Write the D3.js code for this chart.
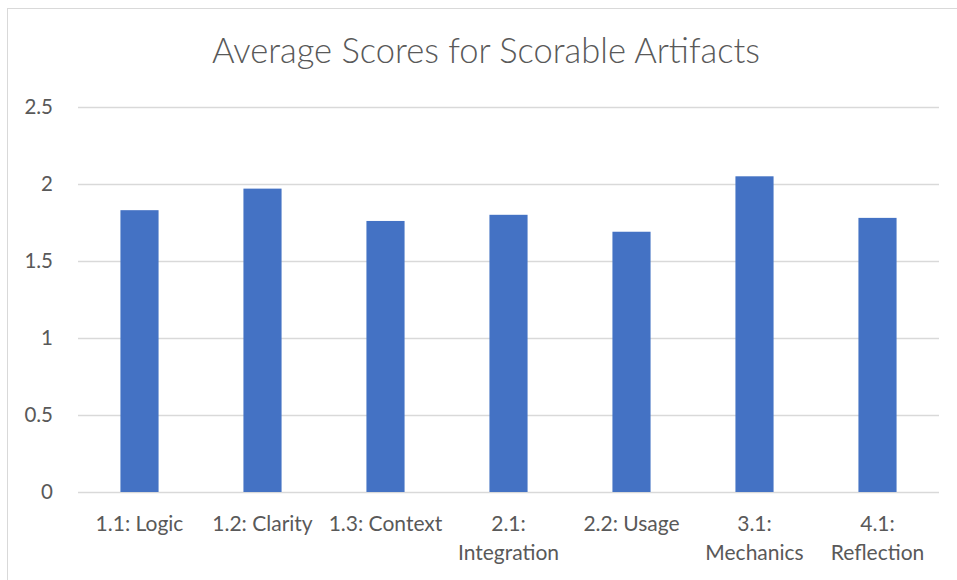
<!DOCTYPE html>
<html>
<head>
<meta charset="utf-8">
<script src="https://cdnjs.cloudflare.com/ajax/libs/d3/7.8.5/d3.min.js"></script>
<style>
  body { margin: 0; background: #fff; }
</style>
</head>
<body>
<div id="chart"></div>
<script>
// data
var categories = [["1.1: Logic"], ["1.2: Clarity"], ["1.3: Context"], ["2.1:", "Integration"],
                  ["2.2: Usage"], ["3.1:", "Mechanics"], ["4.1:", "Reflection"]];
var scores = [1.83, 1.97, 1.76, 1.80, 1.69, 2.05, 1.78];
var yTicks = [0, 0.5, 1, 1.5, 2, 2.5];
var titleText = "Average Scores for Scorable Artifacts";

var W = 957, H = 580,
    plot = { left: 78, right: 939, top: 107, bottom: 492 },
    fontFam = "Lato, 'Open Sans', sans-serif",
    textColor = "#595959";

var svg = d3.select("#chart").append("svg")
    .attr("width", W)
    .attr("height", H);

// chart frame
svg.append("rect")
    .attr("x", 7.5).attr("y", 8.5)
    .attr("width", W + 10).attr("height", H + 10)
    .attr("fill", "#fff")
    .attr("stroke", "#d9d9d9");

var x = d3.scaleBand()
    .domain(d3.range(categories.length))
    .range([plot.left, plot.right])
    .paddingInner(0.69)
    .paddingOuter(0.345);

var y = d3.scaleLinear()
    .domain([0, 2.5])
    .range([plot.bottom, plot.top]);

// gridlines
svg.append("g")
    .selectAll("line")
    .data(yTicks)
    .enter()
    .append("line")
    .attr("x1", plot.left).attr("x2", plot.right)
    .attr("y1", function (d) { return Math.round(y(d)) + 0.5; })
    .attr("y2", function (d) { return Math.round(y(d)) + 0.5; })
    .attr("stroke", "#d9d9d9")
    .attr("stroke-width", 1.5);

// y labels
svg.append("g")
    .selectAll("text")
    .data(yTicks)
    .enter()
    .append("text")
    .attr("x", 53)
    .attr("y", function (d) { return y(d); })
    .attr("dy", "0.35em")
    .attr("text-anchor", "end")
    .attr("font-family", fontFam)
    .attr("font-size", "20.5px")
    .attr("fill", textColor)
    .text(function (d) { return d; });

// bars
svg.append("g")
    .selectAll("rect")
    .data(scores)
    .enter()
    .append("rect")
    .attr("x", function (d, i) { return x(i); })
    .attr("width", x.bandwidth())
    .attr("y", function (d) { return y(d); })
    .attr("height", function (d) { return y(0) - y(d); })
    .attr("fill", "#4472c4");

// category labels (wrapped ones get two lines)
var labels = svg.append("g")
    .selectAll("text")
    .data(categories)
    .enter()
    .append("text")
    .attr("text-anchor", "middle")
    .attr("font-family", fontFam)
    .attr("font-size", "21px")
    .attr("fill", textColor)
    .attr("transform", function (d, i) {
        return "translate(" + (x(i) + x.bandwidth() / 2) + ",531)";
    });

labels.selectAll("tspan")
    .data(function (d) { return d; })
    .enter()
    .append("tspan")
    .attr("x", 0)
    .attr("y", function (d, j) { return j * 29; })
    .text(function (d) { return d; });

// title
svg.append("text")
    .attr("x", 486)
    .attr("y", 63)
    .attr("text-anchor", "middle")
    .attr("font-family", fontFam)
    .attr("font-size", "34.5px")
    .attr("font-weight", 300)
    .attr("fill", textColor)
    .text(titleText);
</script>
</body>
</html>
